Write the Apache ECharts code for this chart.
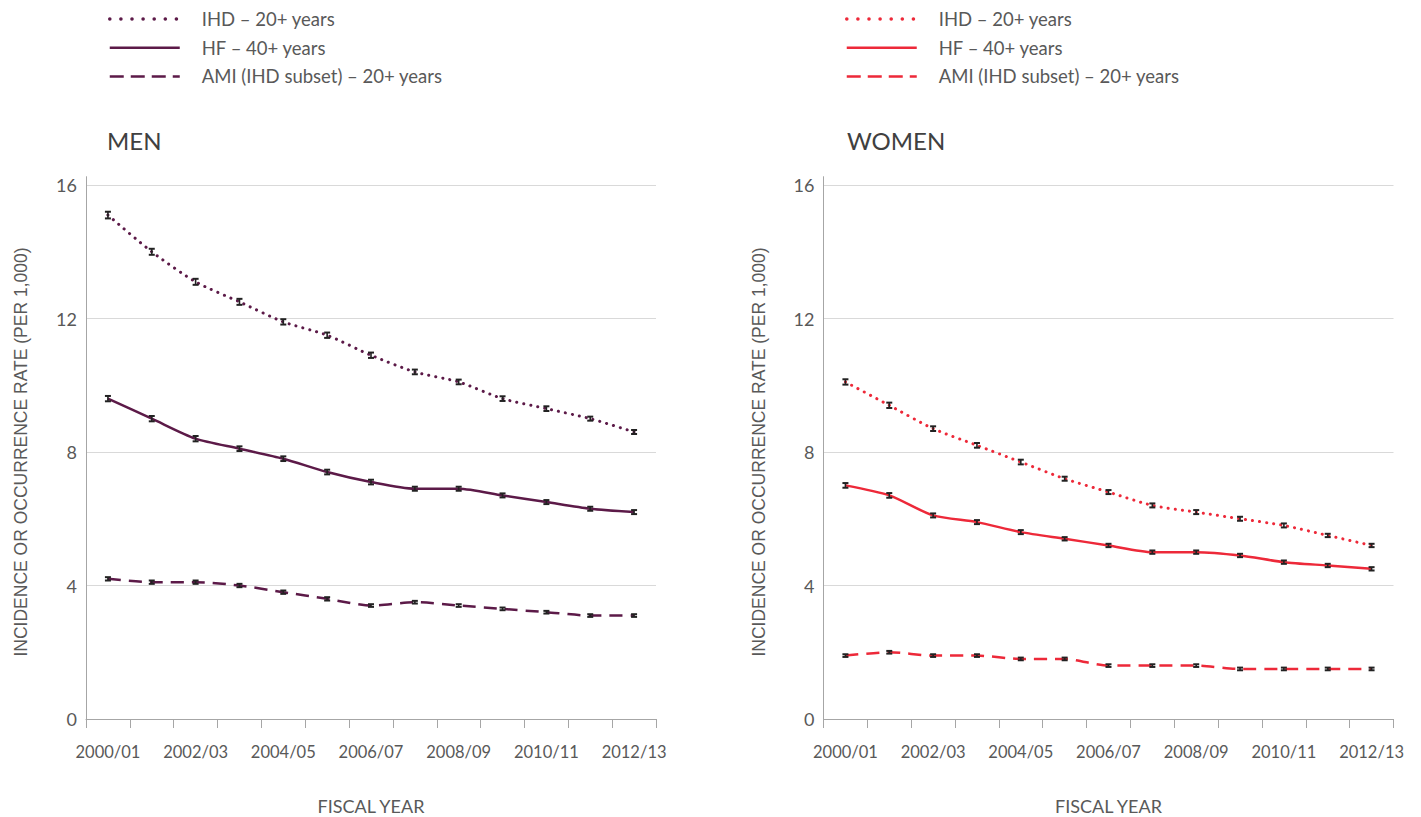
<!DOCTYPE html>
<html>
<head>
<meta charset="utf-8">
<script src="https://cdn.jsdelivr.net/npm/echarts@6/dist/echarts.min.js"></script>
<style>
  html, body { margin: 0; padding: 0; background: #ffffff; }
  #chart { width: 1421px; height: 817px; }
</style>
</head>
<body>
<div id="chart"></div>
<script>
// Fiscal years on the x axis
const years = ['2000/01', '2001/02', '2002/03', '2003/04', '2004/05', '2005/06', '2006/07',
               '2007/08', '2008/09', '2009/10', '2010/11', '2011/12', '2012/13'];

// Rates per 1,000 — men
const menIHD = [15.1, 14.0, 13.1, 12.5, 11.9, 11.5, 10.9, 10.4, 10.1, 9.6, 9.3, 9.0, 8.6];
const menHF  = [9.6, 9.0, 8.4, 8.1, 7.8, 7.4, 7.1, 6.9, 6.9, 6.7, 6.5, 6.3, 6.2];
const menAMI = [4.2, 4.1, 4.1, 4.0, 3.8, 3.6, 3.4, 3.5, 3.4, 3.3, 3.2, 3.1, 3.1];

// Rates per 1,000 — women
const womenIHD = [10.1, 9.4, 8.7, 8.2, 7.7, 7.2, 6.8, 6.4, 6.2, 6.0, 5.8, 5.5, 5.2];
const womenHF  = [7.0, 6.7, 6.1, 5.9, 5.6, 5.4, 5.2, 5.0, 5.0, 4.9, 4.7, 4.6, 4.5];
const womenAMI = [1.9, 2.0, 1.9, 1.9, 1.8, 1.8, 1.6, 1.6, 1.6, 1.5, 1.5, 1.5, 1.5];

// Half-widths of the 95% confidence intervals
const menIHDci   = [0.10, 0.09, 0.09, 0.09, 0.08, 0.08, 0.08, 0.07, 0.07, 0.07, 0.07, 0.06, 0.06];
const menHFci    = [0.08, 0.08, 0.08, 0.07, 0.07, 0.07, 0.07, 0.06, 0.06, 0.06, 0.06, 0.06, 0.06];
const menAMIci   = [0.05, 0.05, 0.05, 0.05, 0.05, 0.05, 0.04, 0.04, 0.04, 0.04, 0.04, 0.04, 0.04];
const womenIHDci = [0.08, 0.08, 0.07, 0.07, 0.07, 0.06, 0.06, 0.06, 0.06, 0.06, 0.06, 0.05, 0.05];
const womenHFci  = [0.07, 0.07, 0.06, 0.06, 0.06, 0.05, 0.05, 0.05, 0.05, 0.05, 0.05, 0.05, 0.05];
const womenAMIci = [0.04, 0.04, 0.04, 0.04, 0.04, 0.04, 0.04, 0.04, 0.04, 0.04, 0.04, 0.04, 0.04];

// Y axis ticks
const yTicks = [0, 4, 8, 12, 16];

const seriesLabels = ['IHD – 20+ years', 'HF – 40+ years', 'AMI (IHD subset) – 20+ years'];
const panelTitles = ['MEN', 'WOMEN'];
const yAxisName = 'INCIDENCE OR OCCURRENCE RATE (PER 1,000)';
const xAxisName = 'FISCAL YEAR';

const MEN_COLOR = '#5c1a48';
const WOMEN_COLOR = '#ed2939';
const FONT = 'Lato, "Open Sans", sans-serif';
const TEXT = '#595959';

const dotted = { type: [0.1, 7], cap: 'round', width: 3 };
const solid  = { type: 'solid', width: 2.5 };
const dashed = { type: [13, 8], width: 2.5 };
const styles = [dotted, solid, dashed];

const legendStyles = [
  { type: [0.1, 11], cap: 'round', width: 3.5 },
  { type: 'solid', width: 2.5 },
  { type: [14, 7], width: 2.5 }
];

const panels = [
  { key: 'men', color: MEN_COLOR, data: [menIHD, menHF, menAMI], ci: [menIHDci, menHFci, menAMIci] },
  { key: 'women', color: WOMEN_COLOR, data: [womenIHD, womenHF, womenAMI], ci: [womenIHDci, womenHFci, womenAMIci] }
];

const nameToLabel = {};
panels.forEach(p => seriesLabels.forEach((l, i) => { nameToLabel[p.key + i] = l; }));

// Confidence-interval whisker: vertical stroke with short caps
function renderErrorBar(params, api) {
  const x = api.value(0);
  const lo = api.coord([x, api.value(1)]);
  const hi = api.coord([x, api.value(2)]);
  const w = 3;
  const cap = { stroke: '#222222', lineWidth: 2 };
  return {
    type: 'group',
    children: [
      { type: 'line', shape: { x1: lo[0], y1: lo[1], x2: hi[0], y2: hi[1] }, style: { stroke: '#222222', lineWidth: 1.6 } },
      { type: 'line', shape: { x1: lo[0] - w, y1: lo[1], x2: lo[0] + w, y2: lo[1] }, style: cap },
      { type: 'line', shape: { x1: hi[0] - w, y1: hi[1], x2: hi[0] + w, y2: hi[1] }, style: cap }
    ]
  };
}

const grids = [
  { left: 86, width: 570, top: 176.7, bottom: 98, outerBoundsMode: 'none' },
  { left: 823.5, width: 570, top: 176.7, bottom: 98, outerBoundsMode: 'none' }
];

const xAxes = grids.map((g, gi) => ({
  type: 'category',
  gridIndex: gi,
  data: years,
  boundaryGap: true,
  name: xAxisName,
  nameLocation: 'middle',
  nameGap: 78,
  nameTextStyle: { fontFamily: FONT, fontSize: 18, color: TEXT },
  axisLine: { lineStyle: { color: '#a6a6a6', width: 1 } },
  axisTick: { show: true, interval: 0, length: 9, lineStyle: { color: '#a6a6a6' } },
  axisLabel: { interval: 1, margin: 24, fontFamily: FONT, fontSize: 16.5, color: TEXT }
}));

const yAxes = grids.map((g, gi) => ({
  type: 'value',
  gridIndex: gi,
  min: yTicks[0],
  max: yTicks[yTicks.length - 1] + 0.25,
  interval: yTicks[1] - yTicks[0],
  axisLine: { show: true, lineStyle: { color: '#a6a6a6', width: 1 } },
  axisTick: { show: false },
  axisLabel: { margin: 9, fontFamily: FONT, fontSize: 18, color: TEXT, showMaxLabel: false },
  splitLine: { show: true, showMaxLine: false, lineStyle: { color: '#d9d9d9', width: 1 } }
}));

const series = [];
panels.forEach((p, gi) => {
  p.data.forEach((vals, i) => {
    series.push({
      name: p.key + i,
      type: 'line',
      xAxisIndex: gi,
      yAxisIndex: gi,
      data: vals,
      smooth: 0.25,
      symbol: 'none',
      color: p.color,
      lineStyle: Object.assign({ color: p.color }, styles[i]),
      z: 2
    });
  });
  p.data.forEach((vals, i) => {
    series.push({
      name: p.key + 'Err' + i,
      type: 'custom',
      xAxisIndex: gi,
      yAxisIndex: gi,
      renderItem: renderErrorBar,
      encode: { x: 0, y: [1, 2] },
      data: vals.map((v, k) => [k, v - p.ci[i][k], v + p.ci[i][k]]),
      silent: true,
      z: 3
    });
  });
});

const legends = panels.map((p, gi) => ({
  orient: 'vertical',
  left: gi === 0 ? 108 : 845,
  top: 9.5,
  padding: 0,
  itemWidth: 70,
  itemHeight: 14,
  itemGap: 9.7,
  selectedMode: false,
  itemStyle: { opacity: 0 },
  data: seriesLabels.map((l, i) => ({
    name: p.key + i,
    itemStyle: { opacity: 0 },
    lineStyle: Object.assign({ color: p.color }, legendStyles[i])
  })),
  formatter: n => nameToLabel[n],
  textStyle: { fontFamily: FONT, fontSize: 18.5, lineHeight: 18, color: TEXT, padding: [0, 0, 0, 17] }
}));

const titles = panelTitles.map((t, gi) => ({
  text: t,
  left: gi === 0 ? 107 : 847,
  top: 128,
  padding: 0,
  textStyle: { fontFamily: FONT, fontSize: 24, fontWeight: 'normal', color: '#404040' }
}));

// Rotated y axis captions, centred on each plot's vertical extent
const yNames = grids.map(g => ({
  type: 'text',
  x: g.left - 65,
  y: 452,
  rotation: Math.PI / 2,
  silent: true,
  style: {
    text: yAxisName,
    fill: TEXT,
    font: '17.5px "Liberation Sans", Arial, sans-serif',
    align: 'center',
    verticalAlign: 'middle'
  }
}));

const chart = echarts.init(document.getElementById('chart'), null, { renderer: 'svg' });
chart.setOption({
  animation: false,
  backgroundColor: '#ffffff',
  title: titles,
  legend: legends,
  grid: grids,
  xAxis: xAxes,
  yAxis: yAxes,
  series: series,
  graphic: yNames
});
</script>
</body>
</html>
